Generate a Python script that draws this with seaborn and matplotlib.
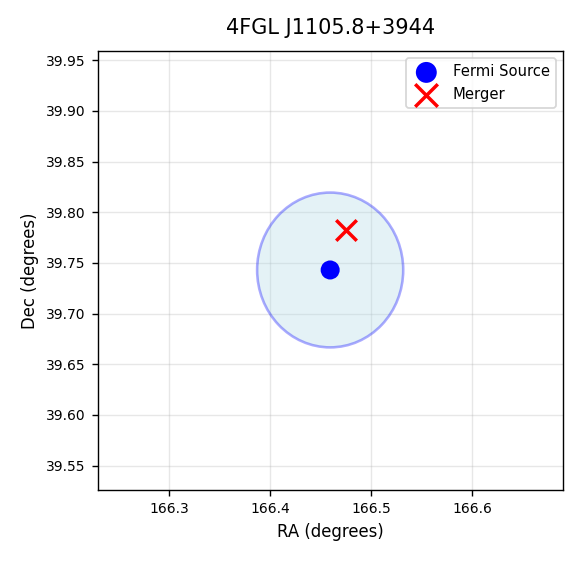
import matplotlib
matplotlib.use("Agg")
import matplotlib.pyplot as plt
from matplotlib.patches import Ellipse
import seaborn as sns
import pandas as pd

title = "4FGL J1105.8+3944"
src_ra = [166.4594]
src_dec = [39.743]
mer_ra = [166.4753]
mer_dec = [39.7825]
ell_width = 0.1446
ell_height = 0.1527

DPI = 125
fig = plt.figure(figsize=(577 / DPI, 561 / DPI), dpi=DPI)
ax = fig.add_axes([0.170, 0.1266, 0.806, 0.7825])

ell = Ellipse((src_ra[0], src_dec[0]), ell_width, ell_height,
              facecolor=(173/255, 216/255, 230/255, 0.32),
              edgecolor=(0, 0, 1, 0.33), linewidth=1.5, zorder=1)
ax.add_patch(ell)

sns.scatterplot(x=src_ra, y=src_dec, ax=ax, color="blue", s=120,
                marker="o", edgecolor="none", label="Fermi Source", zorder=3)
sns.scatterplot(x=mer_ra, y=mer_dec, ax=ax, color="red", s=140,
                marker="x", linewidth=2, label="Merger", zorder=4)

ax.set_xlim(166.2297, 166.690)
ax.set_ylim(39.526, 39.959)
ax.set_xticks([166.3, 166.4, 166.5, 166.6])
ax.set_yticks([39.55, 39.60, 39.65, 39.70, 39.75, 39.80, 39.85, 39.90, 39.95])
ax.set_yticklabels([f"{v:.2f}" for v in ax.get_yticks()])
ax.tick_params(labelsize=8)
ax.grid(True, alpha=0.3)
ax.set_axisbelow(True)
ax.set_xlabel("RA (degrees)", fontsize=9.5)
ax.set_ylabel("Dec (degrees)", fontsize=9.5)
ax.set_title(title, fontsize=12, pad=10)
ax.legend(loc="upper right", fontsize=8.5, markerscale=1.1)

fig.savefig("out.png", dpi=DPI)
